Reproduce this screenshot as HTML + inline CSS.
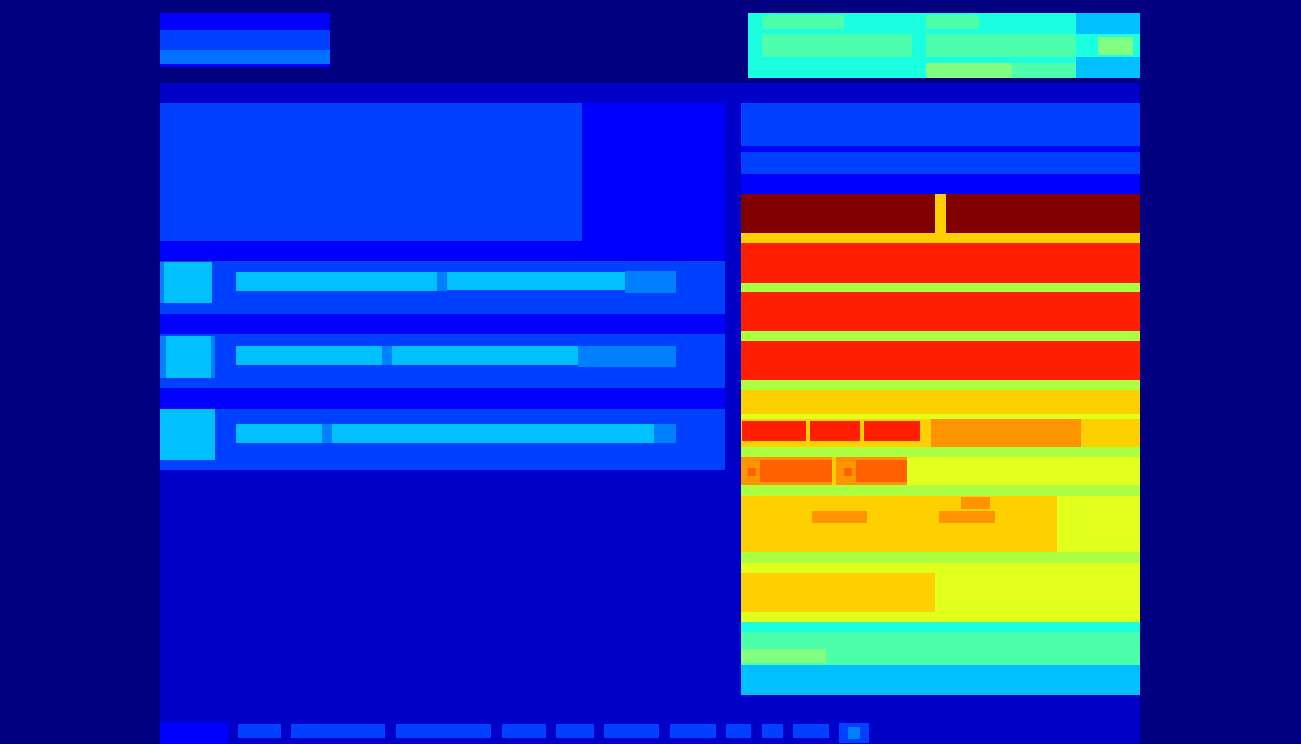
<!DOCTYPE html>
<html><head><meta charset="utf-8"><style>
html,body{margin:0;padding:0;}
body{width:1301px;height:744px;position:relative;overflow:hidden;background:#000080;font-family:"Liberation Sans",sans-serif;}
.r{position:absolute;}
</style></head><body>
<script>
const B0='#0000ff',B1='#0040ff',B2='#0080ff',B3='#00c0ff',CY='#1affe0',AQ='#4dffaa',LG='#80ff80',GY='#aaff40',YL='#e0ff1a',GD='#ffd000',OR='#ff9400',DO='#ff6000',RD='#ff1e00',DR='#800000',MB='#0000c8';
const rects=[
['main-area',160,83,1140,744,MB],
['header-title',160,13,330,30,B0],
['header-subtitle',160,30,330,50,B1],
['header-meta',160,50,330,64,'#0070ff'],
['header-rule',160,64,330,67,B0],
['stats-panel',748,13,1076,78,CY],
['stat-1',762,15,844,29,AQ],['stat-2',926,15,979,29,AQ],
['stat-3',762,34,912,57,AQ],['stat-4',926,34,1076,57,AQ],
['stat-5',926,63,1012,78,LG],['stat-6',1012,63,1076,78,AQ],
['stats-side-top',1076,13,1140,34,B3],['stats-side-mid',1076,34,1140,57,CY],
['stats-badge',1098,37,1133,55,LG],['stats-side-bottom',1076,57,1140,78,B3],
['left-panel',160,103,725,260,B0],
['hero-block',160,103,582,241,B1],
['card-1',160,261,725,314,B1],['card-1-edge',160,262,164,303,B2],['card-1-icon',164,262,212,303,B3],
['card-1-text-a',236,272,437,291,B3],['card-1-sep',437,272,447,291,B2],['card-1-text-b',447,272,625,290,B3],['card-1-tail',625,271,676,293,B2],
['gap-1',160,314,725,334,B0],
['card-2',160,334,725,388,B1],['card-2-edge',160,336,166,378,B2],['card-2-icon',166,336,211,378,B3],['card-2-edge-r',211,336,215,378,B2],
['card-2-text-a',236,346,382,365,B3],['card-2-sep',382,346,392,365,B2],['card-2-text-b',392,346,578,365,B3],['card-2-tail',578,346,676,367,B2],
['gap-2',160,388,725,409,B0],
['card-3',160,409,725,470,B1],['card-3-icon',160,409,215,460,B3],
['card-3-text-a',236,424,322,443,B3],['card-3-sep',322,424,332,443,B2],['card-3-text-b',332,424,654,443,B3],['card-3-tail',654,424,676,443,B2],
['right-head',741,103,1140,146,B1],['right-rule',741,146,1140,152,B0],['right-sub',741,152,1140,174,B1],['right-gap',741,174,1140,194,B0],
['row-hot',741,194,1140,233,DR],['row-hot-divider',935,194,946,233,GD],
['band-1',741,233,1140,243,GD],
['row-red-1',741,243,1140,283,RD],['band-2',741,283,1140,292,GY],
['row-red-2',741,292,1140,331,RD],['band-3',741,331,1140,341,GY],
['row-red-3',741,341,1140,380,RD],['band-4',741,380,1140,390,GY],
['row-gold',741,390,1140,414,GD],['band-5',741,414,1140,419,YL],
['row-mixed',741,419,1140,447,GD],
['chip-1',742,421,806,441,RD],['chip-2',810,421,860,441,RD],['chip-3',864,421,920,441,RD],
['row-mixed-block',931,419,1081,447,OR],
['band-6',741,447,1140,457,GY],
['row-yellow',741,457,1140,485,YL],['row-yellow-left',741,457,907,485,OR],
['tag-1-dot',748,468,756,476,DO],['tag-1',760,460,832,482,DO],['tag-sep',832,457,836,485,GD],
['tag-2-dot',844,468,852,476,DO],['tag-2',856,460,907,482,DO],
['band-7',741,485,1140,496,GY],
['row-gold-2',741,496,1057,552,GD],['row-gold-2-side',1057,496,1140,552,YL],
['mark-1',961,497,990,509,OR],['mark-2',812,511,867,523,OR],['mark-3',939,511,995,523,OR],
['band-8',741,552,1140,563,GY],
['row-yellow-2',741,563,1140,622,YL],['row-yellow-2-block',741,573,935,612,GD],
['band-9',741,622,1140,632,CY],
['row-aqua',741,632,1140,665,AQ],['row-aqua-chip',741,649,826,663,LG],
['row-sky',741,665,1140,695,B3],
['footer-logo',160,722,228,744,B0],
['footer-link-1',238,724,281,738,B1],['footer-link-2',291,724,385,738,B1],['footer-link-3',396,724,491,738,B1],
['footer-link-4',502,724,546,738,B1],['footer-link-5',556,724,594,738,B1],['footer-link-6',604,724,659,738,B1],
['footer-link-7',670,724,716,738,B1],['footer-link-8',726,724,751,738,B1],['footer-link-9',762,724,783,738,B1],
['footer-link-10',793,724,829,738,B1],['footer-button',839,723,869,743,B1],['footer-button-icon',848,727,860,739,B2]
];
for(const [n,x1,y1,x2,y2,c] of rects){
  const d=document.createElement('div');
  d.className='r';
  d.style.left=x1+'px';d.style.top=y1+'px';d.style.width=(x2-x1)+'px';d.style.height=(y2-y1)+'px';d.style.background=c;
  
  
  document.body.appendChild(d);
}
</script>
</body></html>
